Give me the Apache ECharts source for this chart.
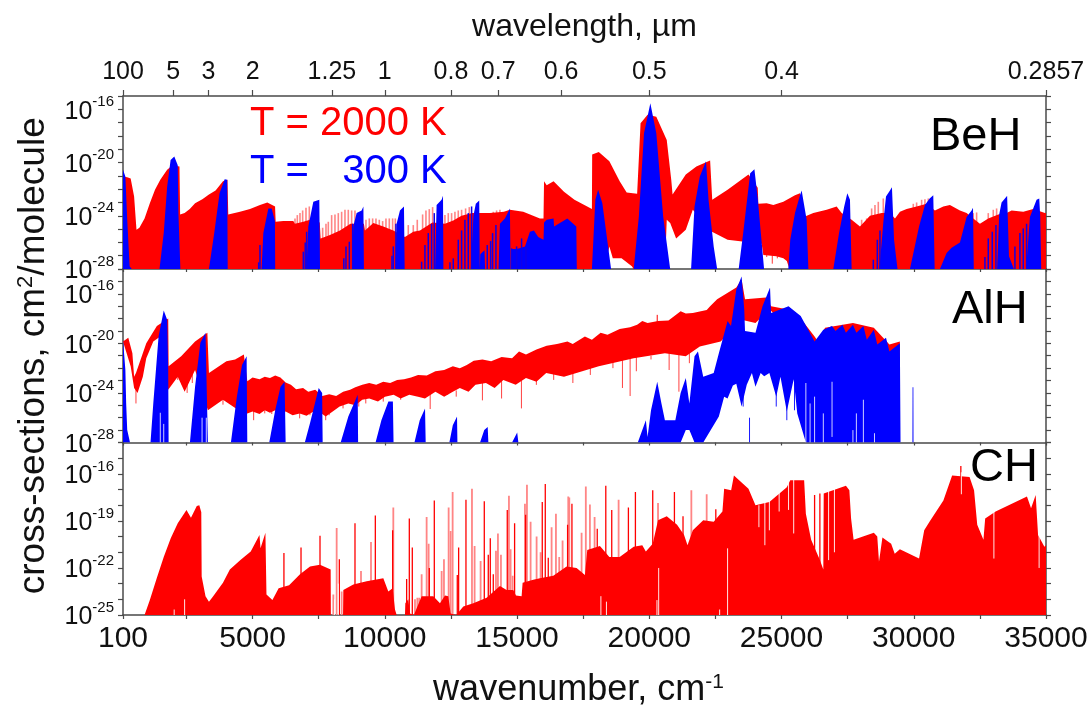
<!DOCTYPE html>
<html><head><meta charset="utf-8">
<style>html,body{margin:0;padding:0;background:#fff}#c{width:1092px;height:709px}</style>
<script src="https://cdn.jsdelivr.net/npm/echarts@6/dist/echarts.min.js"></script>
</head><body><div id="c"></div>
<script>
// rows are [wavenumber in cm-1, log10(cross-section)]
const behRedUpper=[[100,-21.05],[260,-21.1],[390,-21.2],[520,-22.55],[610,-25.05],[720,-24.9],[915,-24.2],[1115,-23.05],[1310,-22.05],[1510,-21.3],[1770,-20.55],[1970,-20.2],[2235,-20.3],[2260,-23.9],[2430,-23.8],[2625,-23.5],[2825,-23.05],[3100,-22.75],[3350,-22.4],[3600,-22.1],[3880,-21.4],[4050,-21.3],[4080,-23.9],[4524,-23.7],[4902,-23.5],[5280,-23.2],[5557,-23],[5850,-23.3],[5872,-24.45],[6162,-24.4],[6540,-24.4],[6600,-24.6],[6918,-24.45],[7170,-24.3],[7540,-24.5],[7573,-25.7],[7926,-25.45],[8304,-25.1],[8700,-24.6],[9210,-24.6],[9250,-25.1],[9564,-24.55],[9942,-24.8],[10320,-25.1],[10760,-25.6],[11076,-25.2],[11328,-25.1],[11800,-24.5],[12273,-24.6],[12588,-24.35],[12900,-24],[13300,-23.8],[13596,-23.8],[13974,-23.8],[14500,-23.7],[14730,-23.55],[15234,-23.7],[15864,-24.2],[16000,-24.2],[16020,-21.4],[16120,-21.7],[16380,-21.4],[16775,-22.2],[17170,-22.8],[17830,-23.5],[17840,-19.4],[18090,-19.2],[18490,-19.9],[18880,-21.4],[19145,-22.25],[19540,-22.35],[19670,-17.05],[19935,-16.4],[20265,-16.55],[20660,-18.3],[20830,-21.3],[20880,-22.4],[21380,-20.9],[21780,-20.3],[22300,-19.85],[22380,-22.8],[22960,-22.05],[23750,-20.9],[24100,-21.9],[24123,-23.1],[24438,-23.05],[24690,-23.2],[25068,-22.95],[25509,-22.45],[25698,-22.3],[25887,-24.05],[26202,-23.8],[26706,-23.55],[27084,-23.3],[27273,-23.8],[27651,-24.3],[27966,-24.8],[28344,-24],[28785,-23.8],[29100,-23.8],[29289,-24.2],[29478,-23.7],[29730,-23.5],[30108,-23.3],[30486,-23.1],[30800,-23.6],[31116,-23.3],[31368,-23.2],[31746,-23.6],[31998,-23.8],[32250,-24.2],[32502,-24.6],[32817,-24.2],[33195,-23.9],[33510,-23.8],[33700,-23.6],[34140,-23.7],[34518,-23.5],[34959,-23.8],[35000,-23.8]];
const behRedLower=[[100,-28],[18300,-28],[18490,-26.3],[18620,-27.2],[18950,-27.2],[19340,-27.8],[19410,-28],[20590,-28],[20660,-24.3],[20790,-24.55],[21015,-25.7],[21380,-25.05],[21645,-23.55],[22370,-25.2],[22960,-25.8],[23355,-25.9],[24249,-26.1],[24312,-26.95],[24800,-27.05],[25068,-27.2],[25200,-27.4],[25300,-28],[35000,-28]];
const behRedTeeth=[[6603,-24.2],[6691,-23.95],[6792,-23.8],[6893,-23.6],[7019,-23.4],[7145,-23.3],[7649,-24.9],[7775,-24.6],[7863,-24.45],[7989,-23.95],[8115,-23.9],[8241,-23.8],[8367,-23.7],[8493,-23.55],[8619,-23.55],[8745,-23.6],[8871,-23.6],[9287,-24.3],[9413,-24.2],[9539,-24.2],[9665,-24.2],[9791,-24.3],[9917,-24.4],[10043,-24.2],[10169,-24.2],[10295,-24.2],[10396,-24.2],[10887,-24.7],[11076,-24.7],[11227,-24.3],[11429,-23.9],[11555,-23.6],[11681,-23.5],[11807,-23.35],[12273,-23.95],[12399,-23.8],[12525,-23.8],[12651,-23.7],[12777,-23.6],[12903,-23.55],[13054,-23.45],[13193,-23.35],[13596,-23.8],[13722,-23.9],[13848,-23.8],[13974,-23.8],[14100,-23.7],[14226,-23.6],[14352,-23.55],[28029,-24.3],[28218,-24.2],[28407,-23.45],[28533,-23.2],[28659,-22.95],[28848,-22.7],[29982,-23.1],[30108,-23],[30297,-22.8],[30423,-22.75],[30549,-22.7],[32250,-23.8],[32376,-23.75],[32817,-23.8],[33006,-23.55],[33132,-23.45]];
const behRedDrops=[[24440,-26,-27.1],[24650,-26,-27.6],[24840,-26,-27.2]];
const behBlueUpper=[[100,-20.55],[190,-21.05],[260,-24.3],[350,-27.8],[430,-28],[1480,-28],[1640,-25.3],[1770,-21.8],[1900,-19.8],[2040,-19.55],[2170,-20.2],[2195,-23.8],[2270,-28],[3350,-28],[3550,-25.3],[3750,-22.3],[3945,-21.25],[4040,-21.3],[4060,-28],[5340,-28],[5406,-25.3],[5595,-23.45],[5720,-23.45],[5845,-24.4],[5855,-28],[7040,-28],[7107,-24.8],[7296,-22.95],[7523,-22.8],[7550,-28],[8760,-28],[8808,-24.8],[8934,-23.8],[9123,-23.6],[9190,-23.3],[9210,-28],[10400,-28],[10446,-24.6],[10572,-23.6],[10724,-23.3],[10750,-28],[11900,-28],[11958,-23.2],[12147,-22.8],[12200,-22.5],[12215,-28],[13250,-28],[13350,-24],[13440,-23.1],[13570,-22.85],[13590,-28],[13610,-26.9],[13770,-26.6],[13790,-28],[14300,-28],[14352,-24.6],[14541,-24.2],[14730,-23.45],[14755,-28],[14790,-28],[14810,-26.5],[15000,-26.5],[15300,-26.3],[15486,-25.2],[15637,-25.1],[15800,-25.6],[16000,-25.8],[16020,-24.5],[16120,-24.3],[16380,-24.2],[16400,-24.8],[16900,-24.2],[17240,-24.8],[17260,-28],[17830,-28],[17960,-22.8],[18065,-22.05],[18225,-23.05],[18555,-28],[19410,-28],[19605,-24.05],[19800,-17.8],[20040,-15.55],[20265,-17.8],[20525,-24.05],[20790,-28],[21580,-28],[21710,-23.3],[21910,-21.05],[22145,-19.9],[22240,-22.8],[22435,-26.3],[22565,-28],[23380,-28],[23550,-25.3],[23815,-20.8],[23975,-20.5],[24105,-22.8],[24340,-28],[25257,-28],[25330,-25.8],[25509,-23.8],[25698,-22.45],[25761,-22.1],[25950,-24.3],[26015,-28],[26958,-28],[27175,-25.3],[27370,-23.3],[27487,-22.3],[27588,-22.8],[27651,-28],[28700,-28],[28848,-24.5],[28950,-22.55],[29100,-22.1],[29175,-21.85],[29255,-25.8],[29385,-28],[29856,-28],[30200,-24.8],[30423,-23.2],[30600,-22.7],[30738,-22.45],[30790,-28],[30990,-28],[31242,-26.8],[31431,-26.4],[31746,-26],[31998,-24.1],[32187,-23.6],[32240,-23.4],[32270,-28],[33150,-28],[33230,-23.9],[33320,-23],[33510,-22.55],[33530,-22.5],[33600,-27.05],[33785,-28],[34250,-28],[34392,-24.1],[34644,-22.8],[34745,-22.7],[34780,-24],[34820,-28],[35000,-28]];
const behBlueComb=[[5230,-27.5],[5280,-26.2],[6918,-26.7],[6990,-26],[7044,-25.2],[8450,-27.2],[8531,-26.3],[8657,-25.95],[8783,-24.6],[10270,-27],[10320,-26.3],[10420,-24.6],[11391,-27.45],[11517,-26.2],[11643,-25.3],[11769,-24.6],[11870,-23.8],[12462,-27.5],[12588,-27.2],[12777,-25.8],[12903,-25.1],[13029,-24.3],[13155,-23.8],[13281,-23.3],[13873,-26.2],[14000,-25.9],[14075,-25.3],[14201,-24.7],[14793,-26.45],[14982,-26.3],[15171,-25.7],[15335,-26.3],[28470,-27.3],[28621,-25.8],[28722,-25.1],[32691,-27.1],[32817,-25.7],[32968,-25.2],[33107,-24.7],[33825,-26.3],[34014,-25.3],[34140,-24.95],[34266,-24.6]];

const alhRedUpper=[[100,-19.85],[300,-19.55],[455,-20.8],[520,-22.7],[590,-22.4],[980,-20],[1380,-18.6],[1810,-18],[1825,-21.85],[2300,-21.05],[2825,-19.85],[3290,-19.15],[3350,-22.4],[4010,-21.45],[4340,-21.3],[4670,-20.9],[4800,-23.05],[4999,-22.75],[5263,-22.9],[5460,-22.7],[5658,-22.8],[5855,-22.6],[6053,-22.75],[6250,-23.15],[6448,-23.35],[6645,-23.7],[6909,-23.6],[7106,-23.9],[7370,-23.75],[7633,-24.25],[7897,-24.1],[8160,-24.25],[8423,-23.9],[8687,-23.75],[8884,-23.55],[9148,-23.35],[9411,-23.2],[9675,-23.35],[9938,-23.1],[10201,-23.2],[10465,-22.95],[10728,-22.9],[10991,-22.75],[11255,-22.55],[11584,-22.6],[11913,-22.25],[12243,-22.15],[12572,-21.85],[12836,-22],[13099,-21.75],[13362,-21.4],[13691,-21.3],[14021,-21.45],[14416,-21.1],[14811,-21.2],[15074,-20.65],[15338,-20.9],[15733,-20.5],[16120,-20.2],[16510,-20.05],[16905,-19.85],[17105,-20.05],[17565,-19.45],[17830,-19.7],[18160,-19.15],[18420,-19.3],[18880,-18.85],[19275,-18.7],[19540,-18.5],[19735,-18.2],[19935,-18.35],[20330,-18.2],[20725,-18.15],[21185,-17.4],[21380,-17.6],[21645,-17.55],[22170,-17.3],[22300,-17],[22565,-16.45],[23290,-15.5],[23490,-14.85],[23620,-16.45],[24410,-16.3],[24605,-17],[25200,-17.25],[25855,-18.35],[26250,-19.45],[26380,-19.85],[26645,-18.75],[27700,-18.35],[28490,-18.75],[29080,-20.1],[29475,-19.85]];
const alhRedLower=[[100,-19.85],[390,-21.85],[520,-23.6],[650,-24],[850,-22.7],[980,-21.2],[1245,-19.85],[1510,-19.45],[1810,-23.75],[2170,-22.7],[2430,-23.9],[2825,-22.15],[3310,-25.4],[3880,-24.55],[4540,-25.5],[4800,-25.65],[4999,-25.5],[5263,-25.7],[5460,-25.4],[5658,-25.6],[5855,-25.4],[6053,-25.65],[6250,-25.5],[6514,-25.8],[6777,-25.65],[7041,-25.85],[7304,-25.5],[7567,-25.6],[7765,-25.9],[8029,-25.5],[8291,-25.1],[8620,-24.85],[8884,-25],[9148,-24.55],[9411,-24.45],[9741,-24.7],[10004,-24.3],[10333,-24.15],[10597,-24.45],[10926,-24.15],[11255,-24.3],[11518,-24.45],[11913,-23.9],[12243,-24.3],[12572,-23.9],[12836,-23.6],[13165,-23.9],[13428,-23.35],[13823,-23.2],[14152,-23.6],[14481,-22.95],[14949,-23.35],[15338,-22.8],[15733,-23.1],[16102,-22.4],[16775,-22.7],[18090,-21.85],[19410,-21.2],[20590,-20.8],[21380,-21.05],[21910,-20.25],[22700,-19.85],[23490,-18.1],[24015,-18.35],[24540,-17.25],[26400,-21],[29475,-22]];
const alhRedDrops=[[590,-23,-24.85],[2170,-22,-22.95],[2340,-22,-23.35],[2525,-23,-24],[2720,-22,-23.2],[3510,-24,-24.45],[3680,-24,-24.7],[3880,-24,-24.95],[4080,-24,-24.45],[4275,-24,-24.7],[4670,-25,-25.25],[5040,-25,-26.2],[5260,-25,-25.5],[5460,-25,-25.65],[5725,-25,-25.7],[6385,-25,-25.4],[6780,-25,-26.05],[7170,-25,-25.8],[7765,-25,-26.2],[7895,-25,-25.8],[8420,-24.5,-25.25],[9015,-24,-25.1],[9280,-24,-24.85],[9940,-24,-24.7],[10600,-24,-24.55],[11715,-24,-25.3],[12375,-23.8,-24.15],[12700,-23.8,-24.3],[13690,-23,-24.6],[14415,-23,-24.45],[15165,-23,-25.25],[15730,-22.8,-23.35],[16385,-22,-22.95],[17110,-22,-23.2],[17770,-21.8,-22.55],[18625,-21.5,-22],[18985,-21,-23.6],[19275,-21,-24.25],[19510,-21,-22.25],[20065,-21,-21.3],[20750,-20.6,-22.15],[21120,-20.6,-23.9],[21515,-20.6,-21.6]];
const alhRedUp=[[20300,-17.7,-19]];
const alhBlueUpper=[[100,-19.7],[190,-22.15],[220,-24.85],[260,-27],[365,-28],[1140,-28],[1245,-24.85],[1445,-19.45],[1640,-17.35],[1770,-18.1],[1810,-22.15],[1825,-28],[2630,-28],[2825,-23.5],[3025,-19.95],[3220,-19.15],[3310,-28],[4180,-28],[4405,-24.3],[4600,-21.75],[4775,-21.05],[4800,-28],[5630,-28],[5855,-25.4],[6055,-23.5],[6210,-23.1],[6250,-28],[6975,-28],[7170,-26.45],[7500,-23.6],[7630,-24],[7650,-28],[8330,-28],[8620,-25.9],[8975,-24.15],[8990,-28],[9650,-28],[9870,-26.2],[10135,-24.7],[10305,-24.7],[10330,-28],[11120,-28],[11320,-26.2],[11520,-25.25],[11545,-28],[12440,-28],[12570,-26.6],[12730,-25.9],[12745,-28],[13600,-28],[13760,-27],[13890,-26.75],[13915,-28],[14810,-28],[15005,-27.2],[15050,-28],[19565,-28],[19870,-26.2],[19935,-27.55],[20065,-25.4],[20300,-23.1],[20460,-24.85],[20590,-26.2],[20985,-26.2],[21185,-24],[21380,-22.8],[21515,-24.85],[21710,-21.05],[21840,-20.65],[22040,-22.7],[22435,-22.4],[22630,-20.8],[22960,-18.2],[23090,-18.6],[23290,-15.65],[23490,-14.6],[23590,-17.25],[23620,-19],[24015,-19.15],[24280,-17],[24565,-15.5],[24605,-17.55],[25265,-17],[25725,-17.8],[26250,-19.85],[26580,-18.9],[26910,-18.6],[27040,-19],[27305,-18.5],[27435,-19.15],[27700,-18.5],[27830,-19.15],[28095,-18.6],[28225,-19.7],[28490,-18.9],[28620,-20.1],[28950,-19.55],[29080,-20.65],[29475,-20],[29500,-28],[29950,-28],[29955,-23.55],[29985,-23.55],[29990,-28],[35000,-28]];
const alhBlueLower=[[100,-28],[21185,-28],[21380,-27],[21515,-27],[21710,-28],[22040,-28],[22630,-25.9],[22830,-24.3],[22960,-24.45],[23160,-23.4],[23290,-23.25],[23490,-25.1],[23685,-23.35],[23880,-22.4],[24015,-23.5],[24210,-22.4],[24345,-22.65],[24540,-22.4],[24800,-24.3],[24960,-22.7],[25200,-25.5],[25460,-22.9],[25595,-25.65],[25920,-28],[35000,-28]];
const alhBlueNotches=[[1510,-25.6,-28],[1640,-26.5,-28],[3090,-26,-28],[3250,-26,-28],[25920,-23.2,-28],[26080,-24.85,-28],[26250,-24.3,-28],[26580,-25.65,-28],[26910,-23.1,-27.55],[27700,-27,-28],[27830,-25.65,-28],[28095,-24.55,-28],[28515,-27.25,-28]];
const alhBlueDrops=[[23550,-22.1,-25.1],[23790,-26,-28],[24800,-22.1,-25.1],[25200,-22.1,-26.2],[25490,-23,-25.4],[25660,-23,-25.8]];

const chRedUpper=[[900,-25],[915,-25],[1115,-24.05],[1375,-22.65],[1640,-21.3],[1905,-20.1],[2170,-19.15],[2500,-18.3],[2670,-18.8],[2890,-18.05],[2985,-18],[3060,-18.45],[3075,-22.55],[3220,-23.8],[3350,-24.15],[3510,-23.8],[3880,-22.95],[4140,-22.1],[4540,-21.5],[4930,-20.95],[5260,-19.9],[5300,-20.75],[5485,-19.75],[5525,-23.7],[5750,-24.05],[5985,-23.3],[6380,-23.1],[6793,-22.4],[7171,-21.9],[7549,-21.8],[7952,-22.1],[7960,-25],[8420,-25],[8431,-23.4],[8809,-23.05],[9313,-22.85],[9943,-22.65],[10132,-23.5],[10296,-23.3],[10384,-24.65],[10447,-25],[10762,-25],[10775,-24.25],[10888,-24],[10951,-24.9],[11100,-25],[11392,-23.8],[11833,-23.8],[12085,-24.25],[12274,-23.75],[12400,-23.8],[12488,-24.9],[12700,-25],[12967,-24.45],[13345,-24.25],[13849,-23.9],[14353,-23.15],[14605,-23.4],[14857,-23.4],[14958,-23.75],[15172,-23.8],[15210,-22.95],[15613,-22.75],[15865,-22.65],[16369,-22.5],[16873,-21.9],[17251,-22],[17566,-22.45],[17654,-20.85],[18133,-20.6],[18490,-21.3],[18880,-21.3],[19410,-20.65],[19735,-20.55],[19870,-20.95],[20130,-20.45],[20330,-18.95],[20660,-18.7],[21050,-19.25],[21315,-19.9],[21445,-20.55],[21645,-19.6],[22040,-18.95],[22435,-19.05],[22765,-18.4],[22830,-16.95],[23095,-17.05],[23200,-16.1],[23750,-16.95],[24015,-18],[24540,-17.8],[25200,-16.85],[25330,-16.4],[25855,-16.4],[25920,-18.55],[26120,-20.2],[26450,-21.5],[26580,-22.1],[26595,-17.25],[27435,-16.75],[27565,-17.05],[27630,-18.85],[27725,-20.2],[28490,-19.75],[28620,-20],[28685,-21.6],[28815,-20.05],[29145,-20.45],[29280,-21.1],[29475,-20.8],[30200,-21.4],[30395,-19.6],[30595,-19.05],[31120,-17.7],[31450,-16.1],[32110,-16.2],[32280,-17.05],[32400,-19.25],[32635,-20.2],[32700,-18.85],[33095,-18.4],[34280,-17.45],[34435,-18.2],[34610,-17.35],[34700,-19.9],[34940,-20.65],[35000,-20.55]];
const chRedDark=[[6185,-21.05],[6831,-20.7],[7549,-19.95],[8280,-21.45],[8872,-19.15],[9641,-18.65],[10296,-19.6],[10825,-22.7],[10926,-18.85],[11039,-20.7],[11682,-22],[11871,-17.7],[12740,-22.45],[12791,-20.7],[13068,-17.65],[13761,-17.75],[13912,-21.15],[13988,-20.1],[14101,-22.4],[14630,-18.3],[14907,-19.15],[15323,-18.6],[15953,-17.8],[16067,-16.65],[16180,-21.35],[16911,-19.25],[17075,-17.9],[18032,-19.5],[18355,-16.75],[18580,-18.3],[19210,-18.15],[19475,-17.15],[20130,-17.05],[20950,-17.15],[21275,-18.7],[22515,-18.25],[26250,-17.35],[26450,-17.25],[31780,-15.5]];
const chRedLight=[[8053,-23.7],[8179,-19.45],[8368,-23.5],[9099,-22.2],[9477,-20.35],[10321,-18.15],[11140,-24],[11230,-23.9],[11300,-23.9],[11392,-22.4],[11581,-18.75],[11657,-20.45],[12148,-22.2],[12236,-21.45],[12413,-18.15],[12488,-19.65],[12564,-17.15],[13295,-16.95],[13395,-20.6],[13622,-21.55],[14202,-20.9],[14277,-19.8],[14391,-21.15],[14693,-17.4],[14756,-20.8],[14832,-22.5],[15298,-17.9],[15374,-16.7],[15512,-19.05],[15739,-20],[15890,-21],[16306,-19.4],[16470,-18.55],[16595,-21.3],[16721,-20.25],[16936,-17.45],[17440,-19.75],[17600,-16.8],[17755,-17.95],[17932,-18.75],[18840,-17.65],[20330,-17.85],[21590,-17.05],[22170,-17.3],[16975,-17.5]];
const chWhiteGaps=[[2035,-24.65,-25],[2430,-24,-25],[8100,-24,-25],[8240,-23,-25],[10447,-21.15,-22.85],[18170,-23.8,-25],[18380,-24.15,-25],[20290,-24.05,-25],[20355,-22,-25],[22660,-24.65,-25],[22960,-20.75,-25],[24145,-18,-19.4],[24370,-17.8,-20.55],[24540,-17.7,-19.6],[24910,-17.2,-18.4],[25265,-16.5,-18.3],[25460,-16.3,-19.8],[26780,-16.9,-21.5],[27000,-16.9,-21],[31800,-15.9,-17.3],[33030,-18.4,-21.4],[34740,-19.8,-22]];

const wavelengthLabels=['100','5','3','2','1.25','1','0.8','0.7','0.6','0.5','0.4','0.2857'];
const wavelengthTicks=[100,2000,3333,5000,8000,10000,12500,14286,16667,20000,25000,35000];
const wavenumberLabels=[100,5000,10000,15000,20000,25000,30000,35000];
const wavenumberTicks=[100,2500,5000,7500,10000,12500,15000,17500,20000,22500,25000,27500,30000,32500,35000];
const behExpTicks=[-28,-24,-20,-16];
const alhExpTicks=[-28,-24,-20,-16];
const chExpTicks=[-25,-22,-19,-16];
const expRange=[[-28,-15],[-28,-14],[-25,-14]];

const RED='#ff0000',LIGHT='#ff8585',BLUE='#0000ff',AXIS='#4a4a4a',F='Liberation Sans, Arial, sans-serif';
const chart=echarts.init(document.getElementById('c'),null,{renderer:'canvas'});
const grids=[{left:123,right:46,top:96,height:173},{left:123,right:46,top:269,height:173.5},{left:123,right:46,top:442.5,height:172.5}];
const rich={b:{fontSize:25,fontFamily:F,color:'#111',lineHeight:30,verticalAlign:'bottom'},s:{fontSize:15,fontFamily:F,color:'#111',lineHeight:30,verticalAlign:'top',padding:[0,0,6,0]}};
const lineX={lineStyle:{color:AXIS,width:1.5}};
function decades(r){const o=[];for(let e=r[0];e<=r[1];e++)o.push(10**e);return o;}
const xAxes=[0,1,2].map(i=>({type:'value',gridIndex:i,min:100,max:35000,position:'bottom',splitLine:{show:false},
  axisLine:{show:true,onZero:false,...lineX},
  axisTick:{show:true,length:i==2?4:3,customValues:wavenumberTicks,lineStyle:{color:AXIS,width:1.2}},
  axisLabel:i==2?{show:true,customValues:wavenumberLabels,fontSize:30,fontFamily:F,color:'#111',margin:9,hideOverlap:false,formatter:v=>String(Math.round(v))}:{show:false},
  ...(i==2?{name:'wavenumber, cm{s|-1}',nameLocation:'middle',nameGap:57,nameTextStyle:{fontSize:36,fontFamily:F,color:'#111',padding:[0,12,0,0],rich:{s:{fontSize:21,fontFamily:F,color:'#111',verticalAlign:'top',lineHeight:36,padding:[0,0,12,0]}}}}:{})}));
xAxes.push({type:'value',gridIndex:0,min:100,max:35000,position:'top',splitLine:{show:false},
  axisLine:{show:true,onZero:false,...lineX},
  axisTick:{show:true,length:6,customValues:wavelengthTicks,lineStyle:{color:AXIS,width:1.2}},
  axisLabel:{show:true,customValues:wavelengthTicks,fontSize:25,fontFamily:F,color:'#111',margin:11,hideOverlap:false,formatter:v=>wavelengthLabels[wavelengthTicks.indexOf(Math.round(v))]},
  name:'wavelength, µm',nameLocation:'middle',nameGap:53,nameTextStyle:{fontSize:32,fontFamily:F,color:'#111'}});
const majors=[behExpTicks,alhExpTicks,chExpTicks];
const yAxes=[];
[0,1,2].forEach(i=>{
  const base={type:'log',logBase:10,gridIndex:i,min:10**expRange[i][0],max:10**expRange[i][1],splitLine:{show:false},minorTick:{show:false},
    axisLine:{show:true,onZero:false,...lineX},
    axisTick:{show:true,length:5,customValues:decades(expRange[i]),lineStyle:{color:AXIS,width:1.2}}};
  yAxes.push({...base,position:'left',
    axisLabel:{show:true,customValues:majors[i].map(e=>10**e),margin:9,hideOverlap:false,rich,
      formatter:v=>'{b|10}{s|'+Math.round(Math.log10(v))+'}'},
    ...(i==1?{name:'cross-sections, cm{s|2}/molecule',nameLocation:'middle',nameGap:71,nameTextStyle:{fontSize:37,fontFamily:F,color:'#111',rich:{s:{fontSize:22,fontFamily:F,color:'#111',verticalAlign:'top',lineHeight:36,padding:[0,0,12,0]}}}}:{})});
  yAxes.push({...base,position:'right',axisLabel:{show:false}});
});
function toXY(rows){return rows.map(r=>[r[0],10**r[1]]);}
function band(name,g,upper,lower,color,z){
  const lo=lower||[[upper[0][0],expRange[g][0]],[upper[upper.length-1][0],expRange[g][0]]];
  return {type:'custom',name,xAxisIndex:g,yAxisIndex:g*2,clip:true,z,silent:true,data:toXY(upper),encode:{x:0,y:1},
    renderItem(p,api){
      if(p.dataIndex!==0)return null;
      const pts=upper.map(r=>api.coord([r[0],10**r[1]])).concat(lo.slice().reverse().map(r=>api.coord([r[0],10**r[1]])));
      return {type:'polygon',shape:{points:pts},style:{fill:color,stroke:null}};
    }};
}
function lines(name,g,rows,color,width,z,opacity){
  const r3=rows.map(r=>[r[0],r[1],r.length>2?r[2]:expRange[g][0]]);
  return {type:'custom',name,xAxisIndex:g,yAxisIndex:g*2,clip:true,z,silent:true,data:r3.map(r=>[r[0],10**r[1],10**r[2]]),encode:{x:0,y:1},
    renderItem(p,api){
      const a=api.coord([api.value(0),api.value(1)]),b=api.coord([api.value(0),api.value(2)]);
      return {type:'line',shape:{x1:a[0],y1:a[1],x2:b[0],y2:b[1]},style:{stroke:color,lineWidth:width,opacity:opacity==null?1:opacity}};
    }};
}
const series=[
 lines('BeH T=2000 K weak lines',0,behRedTeeth,LIGHT,1.6,1),
 band('BeH T=2000 K',0,behRedUpper,behRedLower,RED,2),
 lines('BeH T=2000 K drops',0,behRedDrops,RED,1,2,0.8),
 band('BeH T=300 K',0,behBlueUpper,null,BLUE,3),
 lines('BeH T=300 K lines',0,behBlueComb,'#1000e8',1.5,3),
 band('AlH T=2000 K',1,alhRedUpper,alhRedLower,RED,2),
 lines('AlH T=2000 K drops',1,alhRedDrops,RED,1,2,0.75),
 lines('AlH T=2000 K peak',1,alhRedUp,RED,1,2),
 band('AlH T=300 K',1,alhBlueUpper,alhBlueLower,BLUE,3),
 lines('AlH T=300 K drops',1,alhBlueDrops,BLUE,1,3,0.9),
 lines('AlH T=300 K gaps',1,alhBlueNotches,'#ffffff',1,4,0.8),
 lines('CH T=2000 K weak lines',2,chRedLight,LIGHT,1.8,1),
 band('CH T=2000 K',2,chRedUpper,null,RED,2),
 lines('CH T=2000 K strong lines',2,chRedDark,RED,1.3,2),
 lines('CH gaps',2,chWhiteGaps,'#ffffff',1,3,0.9)
];
const labels=[['T = 2000 K',250,124,40,RED],['T =\u00a0\u00a0\u00a0300 K',250,172,40,BLUE],['BeH',930,137,47,'#000'],['AlH',952,310,47,'#000'],['CH',970,468,47,'#000']];
chart.setOption({animation:false,backgroundColor:'#fff',grid:grids,xAxis:xAxes,yAxis:yAxes,series,
  graphic:labels.map(l=>({type:'text',x:l[1],y:l[2],z:20,style:{text:l[0],fontSize:l[3],fontFamily:F,fill:l[4],textVerticalAlign:'middle',verticalAlign:'middle'}}))});
</script></body></html>
